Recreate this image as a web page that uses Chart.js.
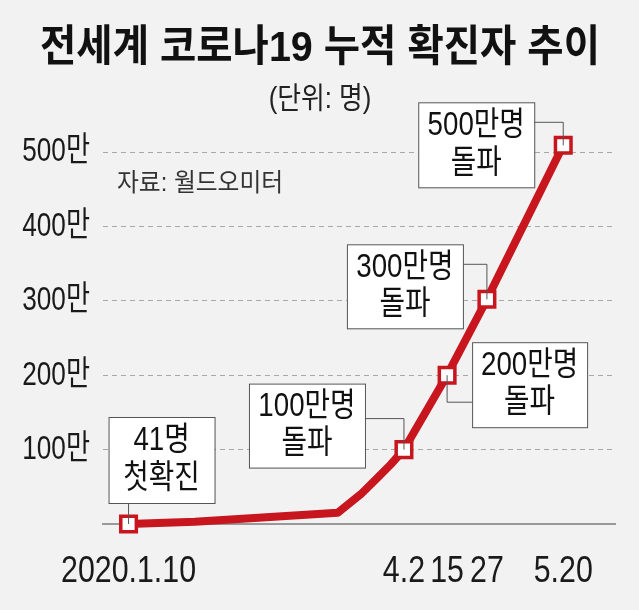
<!DOCTYPE html>
<html lang="ko">
<head>
    <meta charset="UTF-8">
    <title>전세계 코로나19 누적 확진자 추이</title>
    <script src="https://cdn.jsdelivr.net/npm/chart.js@4.4.0/dist/chart.umd.min.js"></script>
    <style>
        html, body { margin: 0; padding: 0; background: #f2f2f2; }
        canvas { display: block; }
    </style>
</head>
<body>
    <canvas id="covidChart" width="639" height="610"></canvas>

    <script>
        // days since 2020.1.10 and cumulative confirmed cases
        const days  = [0, 20, 63, 70, 75, 79, 83, 96, 108, 131];
        const cases = [41, 30000, 150000, 400000, 620000, 800000, 1000000, 2000000, 3020000, 5090000];

        // points that get a square marker + callout
        const markedIdx = [0, 6, 7, 8, 9];
        const calloutText = [
            ['41명', '첫확진'],
            ['100만명', '돌파'],
            ['200만명', '돌파'],
            ['300만명', '돌파'],
            ['500만명', '돌파']
        ];

        // axis ticks
        const xTickDays   = [0, 83, 96, 108, 131];
        const xTickLabels = ['2020.1.10', '4.2', '15', '27', '5.20'];
        const yTickValues = [1000000, 2000000, 3000000, 4000000, 5000000];
        const yTickLabels = ['100만', '200만', '300만', '400만', '500만'];

        const RED = '#c8161e';
        const KR = '"Liberation Sans", "Noto Sans CJK KR", sans-serif';

        // box placement relative to its point (pixels)
        const boxLayout = [
            { dx: -20,  dy: -107, w: 106, h: 86, leader: 'down' },
            { dx: -155, dy: -66,  w: 116, h: 84, leader: 'right', ly: -31 },
            { dx: 25,   dy: -33,  w: 115, h: 85, leader: 'below', ly: 27 },
            { dx: -140, dy: -55,  w: 116, h: 84, leader: 'right', ly: -35 },
            { dx: -145, dy: -43,  w: 116, h: 85, leader: 'right', ly: -23 }
        ];

        // text squeezed horizontally, the original uses a condensed face
        function drawText(ctx, text, x, y, font, color, align, sx) {
            ctx.save();
            ctx.font = font;
            ctx.fillStyle = color;
            ctx.textAlign = align;
            ctx.textBaseline = 'middle';
            ctx.translate(x, y);
            ctx.scale(sx, 1);
            ctx.fillText(text, 0, 0);
            ctx.restore();
        }

        const decorPlugin = {
            id: 'decor',
            beforeDraw(chart) {
                const ctx = chart.ctx;
                ctx.save();
                ctx.fillStyle = '#f2f2f2';
                ctx.fillRect(0, 0, chart.width, chart.height);
                ctx.restore();

                // title + unit + source
                ctx.save();
                ctx.font = 'bold 43px ' + KR;
                ctx.fillStyle = '#111';
                ctx.textAlign = 'center';
                ctx.textBaseline = 'middle';
                ctx.fillText('전세계 코로나19 누적 확진자 추이', 320, 49, 560);
                ctx.restore();
                drawText(ctx, '(단위: 명)', 320, 100, '30px ' + KR, '#222', 'center', 0.86);
                drawText(ctx, '자료: 월드오미터', 117, 184, '25px ' + KR, '#333', 'left', 0.95);
            },
            afterDraw(chart) {
                const ctx = chart.ctx;
                const xs = chart.scales.x, ys = chart.scales.y;
                // tick labels, placed by the scales
                xs.ticks.forEach(t => {
                    const label = xTickLabels[xTickDays.indexOf(t.value)];
                    drawText(ctx, label, xs.getPixelForValue(t.value), 572, '37px ' + KR, '#1a1a1a', 'center', 0.82);
                });
                ys.ticks.forEach(t => {
                    const label = yTickLabels[yTickValues.indexOf(t.value)];
                    drawText(ctx, label, 90, ys.getPixelForValue(t.value), '34px ' + KR, '#1a1a1a', 'right', 0.77);
                });
            },
            afterDatasetsDraw(chart) {
                const ctx = chart.ctx;
                const meta = chart.getDatasetMeta(0);
                markedIdx.forEach((idx, i) => {
                    const pt = meta.data[idx];
                    const px = pt.x, py = pt.y;
                    const b = boxLayout[i];
                    const bx = px + b.dx, by = py + b.dy;

                    ctx.save();
                    ctx.strokeStyle = '#555';
                    ctx.lineWidth = 1;
                    ctx.beginPath();
                    if (b.leader === 'down') {
                        ctx.moveTo(px, by + b.h);
                        ctx.lineTo(px, py);
                    } else if (b.leader === 'right') {
                        ctx.moveTo(bx + b.w, py + b.ly);
                        ctx.lineTo(px, py + b.ly);
                        ctx.lineTo(px, py);
                    } else {
                        ctx.moveTo(px, py);
                        ctx.lineTo(px, py + b.ly);
                        ctx.lineTo(bx, py + b.ly);
                    }
                    ctx.stroke();

                    ctx.fillStyle = '#fff';
                    ctx.fillRect(bx, by, b.w, b.h);
                    ctx.strokeRect(bx + 0.5, by + 0.5, b.w, b.h);
                    ctx.restore();

                    const cx = bx + b.w / 2;
                    drawText(ctx, calloutText[i][0], cx, by + b.h * 0.28, '33px ' + KR, '#111', 'center', 0.84);
                    drawText(ctx, calloutText[i][1], cx, by + b.h * 0.72, '33px ' + KR, '#111', 'center', 0.84);
                });
            }
        };

        const ctx = document.getElementById('covidChart').getContext('2d');
        const covidChart = new Chart(ctx, {
            type: 'line',
            data: {
                datasets: [{
                    data: days.map((d, i) => ({ x: d, y: cases[i] })),
                    borderColor: RED,
                    borderWidth: 8,
                    borderJoinStyle: 'round',
                    tension: 0,
                    clip: false,
                    pointStyle: 'rect',
                    pointRadius: days.map((d, i) => markedIdx.includes(i) ? 11 : 0),
                    pointBackgroundColor: '#fff',
                    pointBorderColor: RED,
                    pointBorderWidth: 3.5
                }]
            },
            options: {
                responsive: false,
                animation: false,
                devicePixelRatio: 1,
                layout: { padding: { top: 114.8, right: 24, bottom: 0, left: 0 } },
                plugins: {
                    legend: { display: false },
                    tooltip: { enabled: false }
                },
                scales: {
                    x: {
                        type: 'linear',
                        min: -7.7,
                        max: 146.6,
                        afterBuildTicks: (scale) => { scale.ticks = xTickDays.map(v => ({ value: v })); },
                        afterFit: (scale) => { scale.height = 86; },
                        grid: { display: false, drawTicks: false },
                        border: { display: true, color: '#999', width: 2 },
                        ticks: { display: false }
                    },
                    y: {
                        min: 0,
                        max: 5500000,
                        afterBuildTicks: (scale) => { scale.ticks = yTickValues.map(v => ({ value: v })); },
                        afterFit: (scale) => { scale.width = 103; },
                        grid: { color: '#a8a8a8', lineWidth: 1, drawTicks: false },
                        border: { display: false, dash: [5, 4] },
                        ticks: { display: false }
                    }
                }
            },
            plugins: [decorPlugin]
        });
    </script>
</body>
</html>
